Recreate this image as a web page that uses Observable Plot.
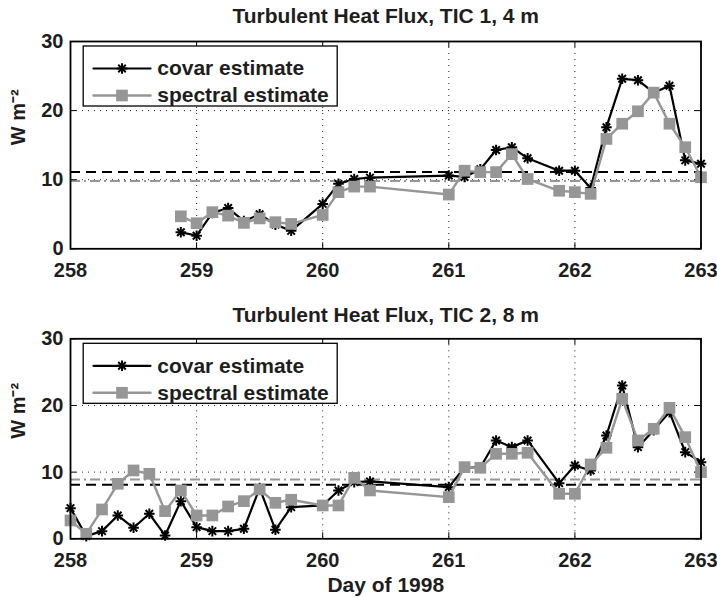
<!DOCTYPE html>
<html>
<head>
<meta charset="utf-8">
<script src="https://cdn.jsdelivr.net/npm/d3@7"></script>
<script src="https://cdn.jsdelivr.net/npm/@observablehq/plot@0.6"></script>
<style>
  body { margin: 0; background: #fff; }
  #chart svg { display: block; }
</style>
</head>
<body>
<div id="chart"></div>
<script>
// Axis ticks and grid positions
const dayTicks = [258, 259, 260, 261, 262, 263];
const fluxTicks = [0, 10, 20, 30];
const gridDays = [259, 260, 261, 262];
const gridFlux = [10, 20];
const seriesNames = ["covar estimate", "spectral estimate"];

// TIC 1, 4 m
const tic1Days = [258.875, 259, 259.125, 259.25, 259.375, 259.5, 259.625, 259.75,
  260, 260.125, 260.25, 260.375,
  261, 261.125, 261.25, 261.375, 261.5, 261.625,
  261.875, 262, 262.125, 262.25, 262.375, 262.5, 262.625, 262.75, 262.875, 263];
const tic1Covar = [2.4, 1.9, 5.2, 5.9, 4.0, 5.0, 3.5, 2.6,
  6.5, 9.4, 10.1, 10.3,
  10.6, 10.4, 11.5, 14.3, 14.7, 13.1,
  11.3, 11.3, 8.8, 17.6, 24.6, 24.4, 22.6, 23.6, 12.8, 12.3];
const tic1Spectral = [4.7, 3.7, 5.3, 4.8, 3.75, 4.4, 3.85, 3.6,
  4.9, 8.2, 9.0, 9.0,
  7.85, 11.3, 11.1, 11.1, 13.7, 10.1,
  8.4, 8.2, 7.95, 15.9, 18.1, 19.9, 22.6, 18.1, 14.7, 10.35];

// TIC 2, 8 m
const tic2Days = [258, 258.125, 258.25, 258.375, 258.5, 258.625, 258.75, 258.875,
  259, 259.125, 259.25, 259.375, 259.5, 259.625, 259.75,
  260, 260.125, 260.25, 260.375,
  261, 261.125, 261.25, 261.375, 261.5, 261.625,
  261.875, 262, 262.125, 262.25, 262.375, 262.5, 262.625, 262.75, 262.875, 263];
const tic2Covar = [4.6, 0.4, 1.15, 3.5, 1.65, 3.75, 0.5, 5.65,
  1.75, 1.15, 1.15, 1.5, 7.6, 1.35, 4.75,
  5.0, 7.25, 8.5, 8.6,
  7.75, 10.7, 10.7, 14.75, 13.75, 14.75,
  8.35, 11.0, 10.25, 15.5, 23.0, 13.75, 16.3, 19.0, 13.0, 11.5];
const tic2Spectral = [2.75, 0.75, 4.4, 8.25, 10.25, 9.75, 4.15, 7.25,
  3.5, 3.5, 4.85, 5.65, 7.4, 5.4, 5.85,
  5.0, 5.0, 9.15, 7.25,
  6.25, 10.75, 10.65, 12.75, 12.75, 12.9,
  6.75, 6.75, 11.15, 13.65, 21.0, 14.75, 16.5, 19.65, 15.25, 10.0];

const W = 717;
const ML = 70, MR = 16.5;
const gray = "#969696";
const ink = "#1e1e1e";
const fontFamily = "'Liberation Sans', Arial, Helvetica, sans-serif";

// a plain horizontal stroke used for the legend samples
const hline = {draw(context, l) { context.moveTo(0, 0); context.lineTo(l, 0); }};

// covar markers: an eight-armed asterisk built from a plus and a times symbol
function asterisk(data, options) {
  const style = {r: 3.5, stroke: "black", fill: "none", strokeWidth: 2};
  return [
    Plot.dot(data, {...options, ...style, symbol: "plus"}),
    Plot.dot(data, {...options, ...style, symbol: "times"})
  ];
}

function panel({title, days, covar, spectral, height, marginTop, marginBottom, titleBaseline, xLabel}) {
  const rows = days.map((d, i) => ({day: d, covar: covar[i], spectral: spectral[i]}));
  const plotW = W - ML - MR;
  const plotH = height - marginTop - marginBottom;
  const [x0, x1] = [dayTicks[0], dayTicks[dayTicks.length - 1]];
  const [y0, y1] = [fluxTicks[0], fluxTicks[fluxTicks.length - 1]];
  const tickPx = 6;
  const tx = tickPx * (x1 - x0) / plotW;
  const ty = tickPx * (y1 - y0) / plotH;

  // legend layout, in pixels from the plot frame's top-left corner
  const lg = {left: 12.7, top: 4.5, w: 254, h: 60, lineX: 23, lineLen: 57, textX: 86.7, row1: 22.5, row2: 49.5};
  const rowY = [lg.top + lg.row1, lg.top + lg.row2];
  const sampleX = lg.lineX + lg.lineLen / 2;

  const marks = [
    // dotted grid
    Plot.ruleX(gridDays, {stroke: "#222", strokeWidth: 1, strokeDasharray: "1,5"}),
    Plot.ruleY(gridFlux, {stroke: "#222", strokeWidth: 1, strokeDasharray: "1,5"}),
    // mean levels of each estimate
    Plot.ruleY([d3.mean(spectral)], {stroke: gray, strokeWidth: 2, strokeDasharray: "10,4,2,4"}),
    Plot.ruleY([d3.mean(covar)], {stroke: "black", strokeWidth: 2, strokeDasharray: "10,6"}),
    // inward ticks on all four sides
    Plot.ruleX(dayTicks, {x: d => d, y1: y0, y2: y0 + ty, stroke: "black", strokeWidth: 1}),
    Plot.ruleX(dayTicks, {x: d => d, y1: y1 - ty, y2: y1, stroke: "black", strokeWidth: 1}),
    Plot.ruleY(fluxTicks, {y: d => d, x1: x0, x2: x0 + tx, stroke: "black", strokeWidth: 1}),
    Plot.ruleY(fluxTicks, {y: d => d, x1: x1 - tx, x2: x1, stroke: "black", strokeWidth: 1}),
    // covar estimate
    Plot.line(rows, {x: "day", y: "covar", stroke: "black", strokeWidth: 2.2}),
    ...asterisk(rows, {x: "day", y: "covar"}),
    // spectral estimate
    Plot.line(rows, {x: "day", y: "spectral", stroke: gray, strokeWidth: 2.4}),
    Plot.dot(rows, {x: "day", y: "spectral", symbol: "square", r: 6.6, fill: gray, stroke: "none"}),
    // legend
    Plot.frame({fill: "white", stroke: "black", strokeWidth: 1.3,
      insetLeft: lg.left, insetTop: lg.top,
      insetRight: plotW - lg.left - lg.w, insetBottom: plotH - lg.top - lg.h}),
    Plot.vector([seriesNames[0]], {frameAnchor: "top-left", dx: lg.lineX, dy: rowY[0],
      length: lg.lineLen, rotate: 0, anchor: "start", shape: hline, stroke: "black", strokeWidth: 2.2}),
    ...asterisk([seriesNames[0]], {frameAnchor: "top-left", dx: sampleX, dy: rowY[0]}),
    Plot.vector([seriesNames[1]], {frameAnchor: "top-left", dx: lg.lineX, dy: rowY[1],
      length: lg.lineLen, rotate: 0, anchor: "start", shape: hline, stroke: gray, strokeWidth: 2.4}),
    Plot.dot([seriesNames[1]], {frameAnchor: "top-left", dx: sampleX, dy: rowY[1],
      symbol: "square", r: 6.6, fill: gray, stroke: "none"}),
    ...seriesNames.map((name, i) => Plot.text([name], {frameAnchor: "top-left", text: d => d,
      dx: lg.textX, dy: rowY[i], textAnchor: "start", lineAnchor: "middle",
      fontSize: 21, fontWeight: "bold", fill: ink})),
    // frame, axes and titles
    Plot.frame({stroke: "black", strokeWidth: 1.8}),
    Plot.axisX(dayTicks, {tickSize: 0, tickPadding: 14, tickFormat: d => String(d),
      fontSize: 20, fontWeight: "bold", fill: ink, label: null}),
    Plot.axisY(fluxTicks, {tickSize: 0, tickPadding: 7, tickFormat: d => String(d),
      fontSize: 20, fontWeight: "bold", fill: ink, label: null}),
    Plot.text(["W m\u207B\u00B2"], {frameAnchor: "left", dx: -52, rotate: -90, fontSize: 20, fontWeight: "bold", fill: ink}),
    Plot.text([title], {frameAnchor: "top", dy: titleBaseline - marginTop, lineAnchor: "bottom",
      fontSize: 21, fontWeight: "bold", fill: ink})
  ];
  if (xLabel) {
    marks.push(Plot.text([xLabel], {frameAnchor: "bottom", dy: 52.7, lineAnchor: "bottom",
      fontSize: 21, fontWeight: "bold", fill: ink}));
  }
  return Plot.plot({
    width: W, height, marginLeft: ML, marginRight: MR, marginTop, marginBottom,
    style: {fontFamily, background: "white", overflow: "visible"},
    x: {domain: [x0, x1]},
    y: {domain: [y0, y1]},
    marks
  });
}

const panelTic1 = panel({
  title: "Turbulent Heat Flux, TIC 1, 4 m",
  days: tic1Days, covar: tic1Covar, spectral: tic1Spectral,
  height: 290, marginTop: 41, marginBottom: 41.7, titleBaseline: 22
});
const panelTic2 = panel({
  title: "Turbulent Heat Flux, TIC 2, 8 m",
  days: tic2Days, covar: tic2Covar, spectral: tic2Spectral,
  height: 307, marginTop: 48.3, marginBottom: 58.7, titleBaseline: 31,
  xLabel: "Day of 1998"
});
document.getElementById("chart").append(panelTic1, panelTic2);
</script>
</body>
</html>
